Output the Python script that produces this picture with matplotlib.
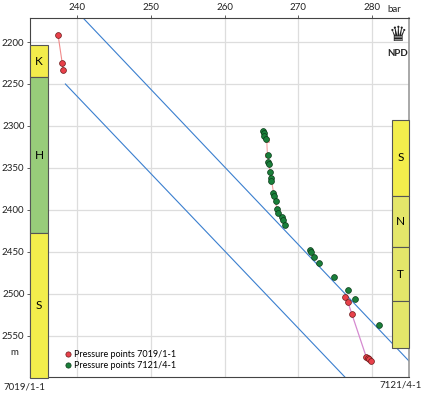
import numpy as np
import matplotlib.pyplot as plt
from matplotlib.patches import Rectangle

plt.rcParams['font.family'] = ['Lato', 'DejaVu Sans']

# pressure points, well 7019/1-1 (bar, m)
red_upper_p = [237.4, 237.96, 238.1]
red_upper_d = [2191.3, 2224.6, 2233.3]
red_lower_p = [276.28, 276.69, 277.24, 279.18, 279.41, 279.63, 279.86]
red_lower_d = [2503.2, 2509.1, 2523.8, 2574.6, 2576.5, 2577.7, 2579.4]
# faint red trace hidden behind the green points
red_mid_p = [265.2, 265.7, 265.8, 266.3, 266.7, 267.1, 268.2]
red_mid_d = [2306.0, 2316.6, 2334.5, 2362.2, 2383.3, 2399.1, 2418.2]

# pressure points, well 7121/4-1
green_p = [265.21, 265.27, 265.40, 265.58, 265.81, 265.81, 265.95, 266.08, 266.26,
           266.35, 266.53, 266.71, 266.98, 267.07, 267.17, 267.80, 267.85, 268.20,
           271.56, 271.66, 272.11, 272.75, 274.83, 276.69, 277.73, 280.95]
green_d = [2305.6, 2308.7, 2311.9, 2315.8, 2334.5, 2342.5, 2345.6, 2355.1, 2362.2,
           2365.4, 2380.1, 2383.3, 2389.3, 2399.1, 2403.9, 2408.0, 2411.9, 2418.2,
           2447.6, 2449.6, 2455.6, 2462.7, 2480.1, 2495.2, 2505.9, 2536.9]

# gradient lines (start, end)
grad1_p = [240.8, 285.0]
grad1_d = [2171.4, 2580.0]
grad2_p = [238.4, 276.3]
grad2_d = [2250.0, 2599.0]

# stratigraphy columns
left_tops = [2204, 2242, 2428]
left_bases = [2242, 2428, 2600]
left_names = ['K', 'H', 'S']
left_colors = ['#f3ec4b', '#98cc7a', '#f3ee4c']

right_tops = [2293, 2383, 2444, 2509]
right_bases = [2383, 2444, 2509, 2565]
right_names = ['S', 'N', 'T', '']
right_colors = ['#f3ee4c', '#e4e66a', '#e4e66a', '#e4e66a']

fig = plt.figure(figsize=(4.25, 3.94), dpi=100)
ax = fig.add_axes([0.0706, 0.0431, 0.8918, 0.9112])

ax.set_xlim(233.6, 285.0)
ax.set_ylim(2599, 2171.4)

ax.set_xticks([240, 250, 260, 270, 280])
ax.set_yticks([2200, 2250, 2300, 2350, 2400, 2450, 2500, 2550])
ax.xaxis.tick_top()
ax.tick_params(axis='both', labelsize=7, length=2.5, width=0.6, colors='#444444',
               labelcolor='#222222', pad=1.5)
ax.grid(True, color='#dddddd', lw=0.9)
ax.set_axisbelow(True)
for s in ['left', 'top', 'bottom']:
    ax.spines[s].set_color('#444444')
    ax.spines[s].set_linewidth(0.8)
ax.spines['right'].set_color('#999999')
ax.spines['right'].set_linewidth(1.2)

ax.plot(grad1_p, grad1_d, color='#3a7fcf', lw=0.8)
ax.plot(grad2_p, grad2_d, color='#3a7fcf', lw=0.8)

ax.plot(red_upper_p, red_upper_d, color='#f08a8a', lw=0.8)
ax.plot(red_mid_p, red_mid_d, color='#f4a0a0', lw=0.8, marker='s', ms=3,
        mfc='none', mec='#f4a0a0', mew=0.6)
ax.plot(red_lower_p, red_lower_d, color='#d58ad0', lw=0.9)

ax.plot(red_upper_p + red_lower_p, red_upper_d + red_lower_d, ls='none', marker='o',
        ms=4.2, mfc='#e8404a', mec='#6a1a1a', mew=0.5,
        label='Pressure points 7019/1-1')
ax.plot(green_p, green_d, ls='none', marker='o', ms=4.2, mfc='#1a7f3a',
        mec='#0a3a18', mew=0.5, label='Pressure points 7121/4-1')

tr = ax.get_yaxis_transform()
for top, base, name, col in zip(left_tops, left_bases, left_names, left_colors):
    ax.add_patch(Rectangle((0, top), 0.048, base - top, transform=tr, facecolor=col,
                           edgecolor='#555555', lw=0.8, clip_on=False, zorder=5))
    ax.text(0.024, (top + base) / 2, name, transform=tr, ha='center', va='center',
            fontsize=8.5, zorder=6)
for top, base, name, col in zip(right_tops, right_bases, right_names, right_colors):
    ax.add_patch(Rectangle((0.955, top), 0.045, base - top, transform=tr, facecolor=col,
                           edgecolor='#555555', lw=0.8, clip_on=False, zorder=5))
    ax.text(0.9775, (top + base) / 2, name, transform=tr, ha='center', va='center',
            fontsize=8.5, zorder=6)

ax.legend(loc='lower left', bbox_to_anchor=(0.07, 0.0), frameon=False, fontsize=6.5,
          handletextpad=0.1, borderpad=0.3, labelspacing=0.2, handlelength=1.0,
          markerscale=0.9)

ax.text(-0.03, 2570, 'm', transform=tr, ha='right', va='center', fontsize=7,
        color='#222222')
ax.annotate('bar', xy=(282.0, 1.0), xycoords=('data', 'axes fraction'),
            xytext=(0, 3), textcoords='offset points', ha='left', va='bottom',
            fontsize=7, color='#222222')
fig.text(1 - 27 / 425, 1 - 35 / 394, '\u265b', ha='center', va='center', fontsize=15,
         color='#222222', family='DejaVu Sans')
fig.text(1 - 27 / 425, 1 - 54 / 394, 'NPD', ha='center', va='center', fontsize=7,
         fontweight='bold', color='#222222')
fig.text(3 / 425, 1 - 387 / 394, '7019/1-1', ha='left', va='center', fontsize=7,
         color='#222222')
fig.text(1 - 3 / 425, 1 - 385 / 394, '7121/4-1', ha='right', va='center', fontsize=7,
         color='#222222')

fig.savefig('out.png', dpi=100)
